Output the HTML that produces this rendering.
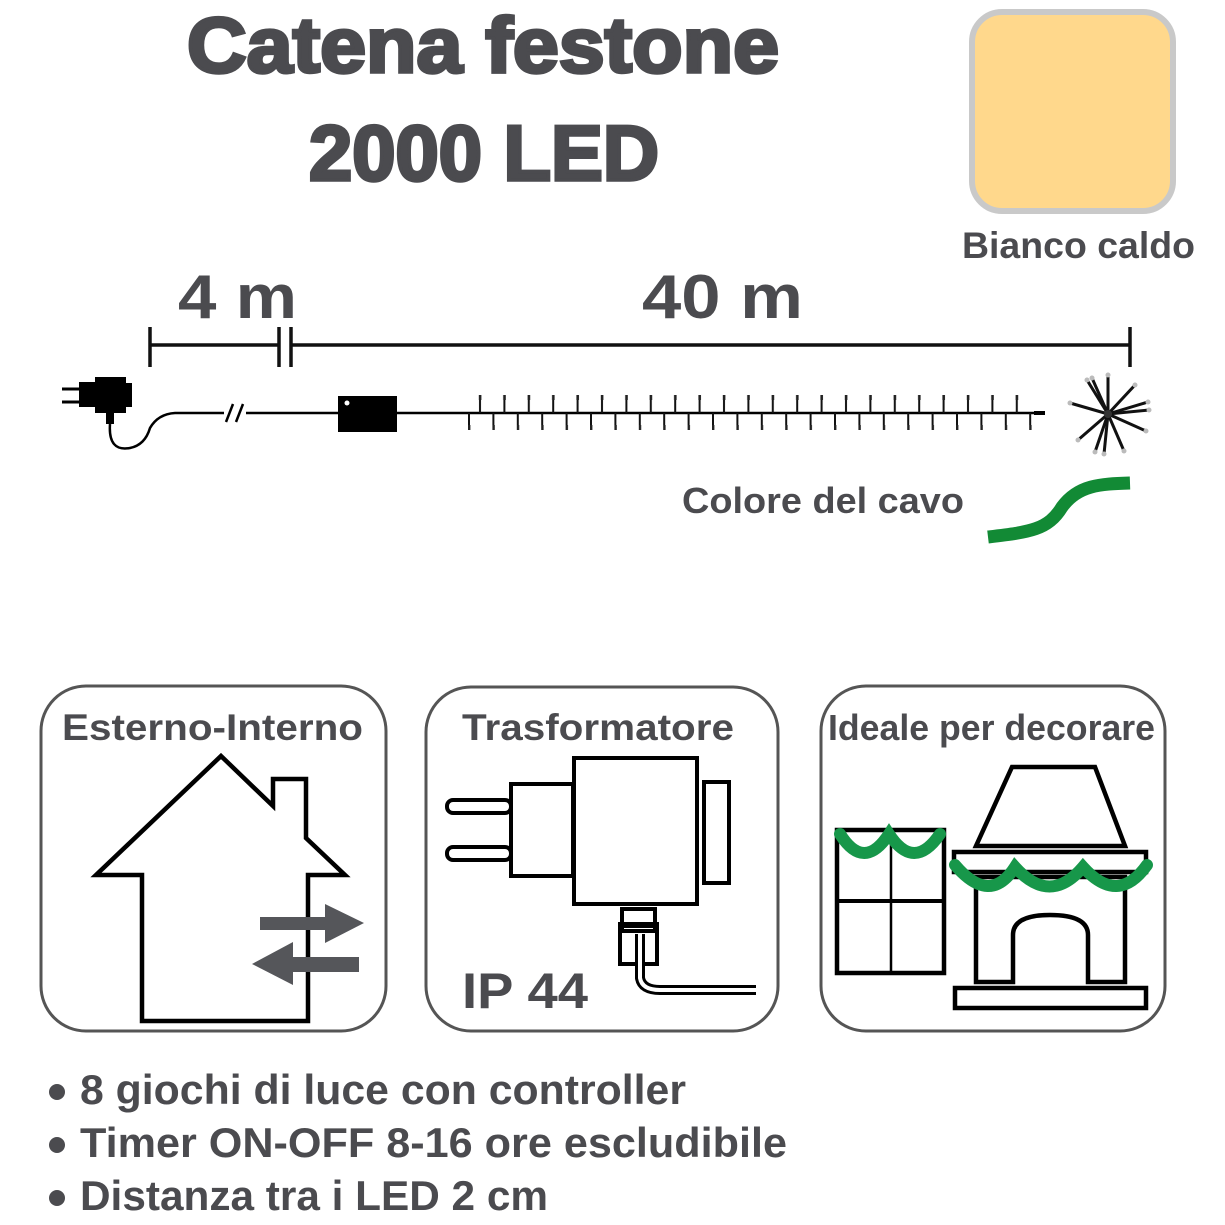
<!DOCTYPE html>
<html><head><meta charset="utf-8"><style>
html,body{margin:0;padding:0;background:#fff}
svg{display:block}
text{font-family:"Liberation Sans",sans-serif;font-weight:bold;fill:#4b4b4f}
</style></head><body>
<svg width="1225" height="1225" viewBox="0 0 1225 1225" xmlns="http://www.w3.org/2000/svg">
<defs>
<pattern id="leds" x="468" y="390" width="24.4" height="45" patternUnits="userSpaceOnUse">
<line x1="12" y1="6" x2="12" y2="23" stroke="#111" stroke-width="2"/>
<rect x="10.8" y="5" width="2.6" height="5" fill="#222"/>
<line x1="1" y1="23" x2="1" y2="40" stroke="#111" stroke-width="2"/>
<rect x="-0.2" y="35" width="2.6" height="5" fill="#222"/>
</pattern>
</defs>
<!-- title -->
<text x="483" y="72" font-size="78" text-anchor="middle" textLength="592" lengthAdjust="spacingAndGlyphs" stroke="#4b4b4f" stroke-width="3.5">Catena festone</text>
<text x="484" y="180" font-size="78" text-anchor="middle" textLength="350" lengthAdjust="spacingAndGlyphs" stroke="#4b4b4f" stroke-width="3.5">2000 LED</text>
<!-- colour swatch -->
<rect x="972" y="12" width="201" height="199" rx="30" fill="#ffd88c" stroke="#c9c9c9" stroke-width="6"/>
<text x="962" y="258" font-size="37" textLength="233" lengthAdjust="spacingAndGlyphs">Bianco caldo</text>
<!-- dimensions -->
<text x="178" y="318" font-size="62" textLength="119" lengthAdjust="spacingAndGlyphs">4 m</text>
<text x="642" y="318" font-size="62" textLength="161" lengthAdjust="spacingAndGlyphs">40 m</text>
<g stroke="#111" stroke-width="3.5">
<line x1="150" y1="345" x2="279" y2="345"/>
<line x1="291" y1="345" x2="1130" y2="345"/>
<line x1="150" y1="327" x2="150" y2="367"/>
<line x1="279" y1="327" x2="279" y2="367"/>
<line x1="291" y1="327" x2="291" y2="367"/>
<line x1="1130" y1="327" x2="1130" y2="367"/>
</g>
<!-- cable -->
<g>
<line x1="62" y1="389" x2="80" y2="389" stroke="#000" stroke-width="3"/>
<line x1="62" y1="402" x2="80" y2="402" stroke="#000" stroke-width="3"/>
<rect x="79" y="382" width="18" height="25" fill="#000"/>
<rect x="95" y="377" width="31" height="36" fill="#000"/>
<rect x="124" y="383" width="8" height="24" fill="#000"/>
<rect x="106" y="412" width="8" height="12" fill="#000"/>
<path d="M110 424 Q108 452 130 448 Q145 445 150 428 Q158 414 175 413 L340 413" fill="none" stroke="#000" stroke-width="2.5"/>
<rect x="224" y="402" width="22" height="22" fill="#fff"/>
<line x1="226" y1="422" x2="233" y2="404" stroke="#000" stroke-width="2.5"/>
<line x1="236" y1="422" x2="243" y2="404" stroke="#000" stroke-width="2.5"/>
<rect x="338" y="396" width="59" height="36" fill="#000"/>
<circle cx="347" cy="403" r="2.5" fill="#fff"/>
<line x1="396" y1="413" x2="1040" y2="413" stroke="#000" stroke-width="2.5"/>
<rect x="1034" y="411" width="11" height="4" fill="#000"/>
<rect x="462" y="390" width="570" height="45" fill="url(#leds)"/>
<!-- starburst -->
<g stroke="#111" stroke-width="3">
<line x1="1108" y1="414" x2="1108" y2="375"/>
<line x1="1108" y1="414" x2="1087" y2="380"/>
<line x1="1108" y1="414" x2="1092" y2="378"/>
<line x1="1108" y1="414" x2="1135" y2="385"/>
<line x1="1108" y1="414" x2="1148" y2="402"/>
<line x1="1108" y1="414" x2="1149" y2="410"/>
<line x1="1108" y1="414" x2="1070" y2="403"/>
<line x1="1108" y1="414" x2="1146" y2="431"/>
<line x1="1108" y1="414" x2="1078" y2="440"/>
<line x1="1108" y1="414" x2="1095" y2="452"/>
<line x1="1108" y1="414" x2="1104" y2="454"/>
<line x1="1108" y1="414" x2="1124" y2="451"/>
</g>
<g fill="#bbb">
<circle cx="1108" cy="375" r="2.5"/><circle cx="1087" cy="380" r="2.5"/><circle cx="1092" cy="378" r="2.5"/><circle cx="1135" cy="385" r="2.5"/><circle cx="1148" cy="402" r="2.5"/><circle cx="1149" cy="410" r="2.5"/><circle cx="1070" cy="403" r="2.5"/><circle cx="1146" cy="431" r="2.5"/><circle cx="1078" cy="440" r="2.5"/><circle cx="1095" cy="452" r="2.5"/><circle cx="1104" cy="454" r="2.5"/><circle cx="1124" cy="451" r="2.5"/>
</g>
<circle cx="1108" cy="414" r="4" fill="#333"/>
</g>
<text x="682" y="513" font-size="36" textLength="282" lengthAdjust="spacingAndGlyphs">Colore del cavo</text>
<path d="M988 537 C1030 532 1048 530 1062 507 C1078 485 1100 484 1130 483" fill="none" stroke="#128a35" stroke-width="13"/>
<!-- panels -->
<g fill="none" stroke="#555" stroke-width="3">
<rect x="41" y="686" width="345" height="345" rx="45"/>
<rect x="426" y="687" width="352" height="344" rx="45"/>
<rect x="821" y="686" width="344" height="345" rx="45"/>
</g>
<text x="62" y="740" font-size="37" textLength="301" lengthAdjust="spacingAndGlyphs">Esterno-Interno</text>
<text x="462" y="740" font-size="37" textLength="272" lengthAdjust="spacingAndGlyphs">Trasformatore</text>
<text x="828" y="740" font-size="36" textLength="327" lengthAdjust="spacingAndGlyphs">Ideale per decorare</text>
<!-- house -->
<path d="M221 756 L273 806 L273 779 L306 779 L306 838 L345 875 L308 875 L308 1021 L142 1021 L142 875 L96 875 Z" fill="none" stroke="#000" stroke-width="4.5"/>
<g fill="#55565a">
<rect x="260" y="917" width="67" height="13"/>
<polygon points="325,904 364,923 325,943"/>
<rect x="291" y="957" width="68" height="15"/>
<polygon points="293,942 252,964 293,985"/>
</g>
<!-- transformer -->
<g fill="none" stroke="#000" stroke-width="4">
<rect x="447" y="800" width="64" height="13" rx="6"/>
<rect x="447" y="847" width="64" height="13" rx="6"/>
<rect x="511" y="784" width="62" height="92" fill="#fff"/>
<rect x="574" y="758" width="123" height="146"/>
<rect x="704" y="782" width="25" height="101"/>
<rect x="622" y="909" width="33" height="22"/>
<rect x="620" y="924" width="37" height="40"/>
</g>
<rect x="620" y="922" width="37" height="6" fill="#000"/>
<path d="M640 934 L640 978 Q642 990 660 990 L756 990" fill="none" stroke="#000" stroke-width="10"/>
<path d="M640 934 L640 978 Q642 990 660 990 L756 990" fill="none" stroke="#fff" stroke-width="4"/>
<text x="462" y="1008" font-size="50" textLength="126" lengthAdjust="spacingAndGlyphs">IP 44</text>
<!-- window + fireplace -->
<g fill="none" stroke="#000" stroke-width="4.5">
<rect x="837" y="830" width="107" height="143"/>
<polygon points="1012,767 1095,767 1125,846 976,846"/>
<rect x="954" y="852" width="192" height="20"/>
<path d="M976 877 L1125 877 L1125 982 L1088 982 L1088 935 Q1088 915 1050 915 Q1013 915 1013 935 L1013 982 L976 982 Z"/>
<rect x="955" y="988" width="191" height="20"/>
</g>
<line x1="891" y1="830" x2="891" y2="973" stroke="#000" stroke-width="2.5"/>
<line x1="837" y1="901" x2="944" y2="901" stroke="#000" stroke-width="4"/>
<g fill="none" stroke="#17974a" stroke-width="12" stroke-linecap="round">
<path d="M840 834 Q864 872 889 834 Q914 872 940 834"/>
<path d="M955 865 Q990 906 1015 867 Q1050 906 1083 867 Q1118 906 1147 865"/>
</g>
<!-- bullets -->
<g fill="#4b4b4f"><circle cx="57" cy="1092" r="8"/><circle cx="57" cy="1145" r="8"/><circle cx="57" cy="1198" r="8"/></g>
<text x="80" y="1104" font-size="42" textLength="606" lengthAdjust="spacingAndGlyphs">8 giochi di luce con controller</text>
<text x="80" y="1157" font-size="42" textLength="707" lengthAdjust="spacingAndGlyphs">Timer ON-OFF 8-16 ore escludibile</text>
<text x="80" y="1210" font-size="42" textLength="468" lengthAdjust="spacingAndGlyphs">Distanza tra i LED 2 cm</text>
</svg>
</body></html>
